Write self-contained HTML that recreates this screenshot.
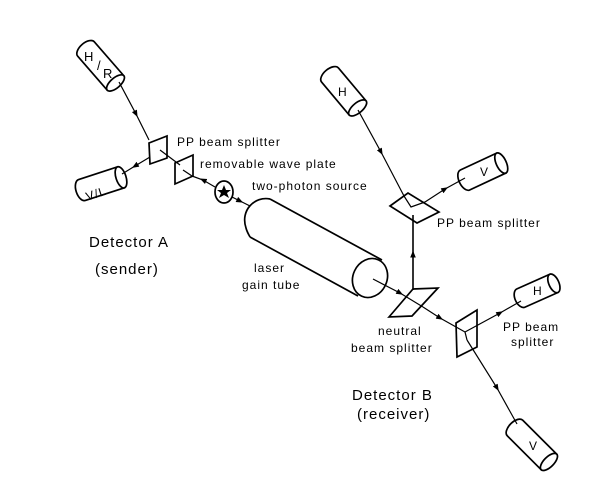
<!DOCTYPE html>
<html><head><meta charset="utf-8"><style>
html,body{margin:0;padding:0;background:#fff;}
svg{display:block;}
text{font-family:"Liberation Sans",sans-serif;fill:#000;letter-spacing:1px;}
</style></head><body>
<svg width="616" height="478" viewBox="0 0 616 478" xmlns="http://www.w3.org/2000/svg">
<defs>
<marker id="a" viewBox="0 0 10 10" refX="5" refY="5" markerWidth="7" markerHeight="7" orient="auto" markerUnits="userSpaceOnUse">
<path d="M0,1 L10,5 L0,9 z" fill="#000"/></marker>
</defs>
<g fill="none" stroke="#000" stroke-width="1.7">
<g transform="translate(86,49) rotate(49)">
<path d="M0,-11 L45,-11 L45,11 L0,11 A6 11 0 0 1 0,-11 Z" fill="#fff"/><ellipse cx="45" cy="0" rx="5" ry="11" fill="#fff"/></g>
<g transform="translate(82,190) rotate(-18)">
<path d="M0,-11 L41,-11 L41,11 L0,11 A6 11 0 0 1 0,-11 Z" fill="#fff"/><ellipse cx="41" cy="0" rx="5" ry="11" fill="#fff"/></g>
<g transform="translate(330,75) rotate(50)">
<path d="M0,-11 L43,-11 L43,11 L0,11 A6 11 0 0 1 0,-11 Z" fill="#fff"/><ellipse cx="43" cy="0" rx="5" ry="11" fill="#fff"/></g>
<g transform="translate(465,180) rotate(-25)">
<path d="M0,-11 L40,-11 L40,11 L0,11 A6 11 0 0 1 0,-11 Z" fill="#fff"/><ellipse cx="40" cy="0" rx="5" ry="11" fill="#fff"/></g>
<g transform="translate(521,298) rotate(-24)">
<path d="M0,-10 L36,-10 L36,10 L0,10 A6 10 0 0 1 0,-10 Z" fill="#fff"/><ellipse cx="36" cy="0" rx="5" ry="10" fill="#fff"/></g>
<g transform="translate(515,428) rotate(45)">
<path d="M0,-11 L48,-11 L48,11 L0,11 A6 11 0 0 1 0,-11 Z" fill="#fff"/><ellipse cx="48" cy="0" rx="5" ry="11" fill="#fff"/></g>
<path d="M270,199 L382,260 M250,237 L358,296 M270,199 C255,196 240,210 246,228 C247,232 249,235 250,237"/>
<ellipse cx="370" cy="278" rx="17" ry="20" transform="rotate(25 370 278)"/>
<ellipse cx="224" cy="192" rx="9" ry="11"/>
<path d="M149,143 L167,136 L167,158 L150,164 Z" fill="#fff"/>
<path d="M175,163 L193,155 L193,176 L175,184 Z" fill="#fff"/>
<path d="M390,206 L408,193 L439,212 L417,223 Z" fill="#fff"/>
<path d="M389,317 L413,289 L438,288 L412,316 Z"/>
<path d="M456,323 L477,310 L477,347 L457,357 Z" fill="#fff"/>
</g>
<g fill="none" stroke="#000" stroke-width="1.2">
<path d="M119,82 L136,114 L149,140" marker-mid="url(#a)"/>
<path d="M150,157 L135,166 L122,174" marker-mid="url(#a)"/>
<path d="M160,150 L180,165"/>
<path d="M183,170 L192,176"/>
<path d="M215,187 L203,180 L192,176" marker-mid="url(#a)"/>
<path d="M232,197 L240,201 L250,206" marker-mid="url(#a)"/>
<path d="M358,110 L381,152 L404,196" marker-mid="url(#a)"/>
<path d="M404,196 L411,207 L425,202"/>
<path d="M425,202 L445,189 L465,178" marker-mid="url(#a)"/>
<path d="M413,290 L413,254 L413,215" marker-mid="url(#a)" stroke-width="1.6"/>
<path d="M373,279 L400,293 L423,307" marker-mid="url(#a)"/>
<path d="M423,307 L440,318 L465,332" marker-mid="url(#a)"/>
<path d="M465,332 L500,313 L521,301" marker-mid="url(#a)"/>
<path d="M465,332 L467,340"/>
<path d="M467,340 L497,388 L517,424" marker-mid="url(#a)"/>
</g>
<path d="M224,185 l2,5 5,0 -4,3 2,5 -5,-3 -5,3 2,-5 -4,-3 5,0z" fill="#000"/>
<text x="84" y="61" font-size="13">H</text>
<text x="97" y="70" font-size="13">/</text>
<text x="103" y="78" font-size="13">R</text>
<text x="85" y="198" font-size="12" transform="rotate(-18 95 192)">V/L</text>
<text x="338" y="96" font-size="12">H</text>
<text x="480" y="176" font-size="12">V</text>
<text x="533" y="295" font-size="12">H</text>
<text x="529" y="450" font-size="12">V</text>
<text x="177" y="146" font-size="12">PP beam splitter</text>
<text x="200" y="168" font-size="12">removable wave plate</text>
<text x="252" y="190" font-size="12">two-photon source</text>
<text x="89" y="247" font-size="15">Detector A</text>
<text x="95" y="274" font-size="15">(sender)</text>
<text x="254" y="272" font-size="12">laser</text>
<text x="242" y="289" font-size="12">gain tube</text>
<text x="437" y="227" font-size="12">PP beam splitter</text>
<text x="378" y="335" font-size="12">neutral</text>
<text x="351" y="352" font-size="12">beam splitter</text>
<text x="503" y="331" font-size="12">PP beam</text>
<text x="511" y="346" font-size="12">splitter</text>
<text x="352" y="400" font-size="15">Detector B</text>
<text x="357" y="419" font-size="15">(receiver)</text>
</svg>
</body></html>
